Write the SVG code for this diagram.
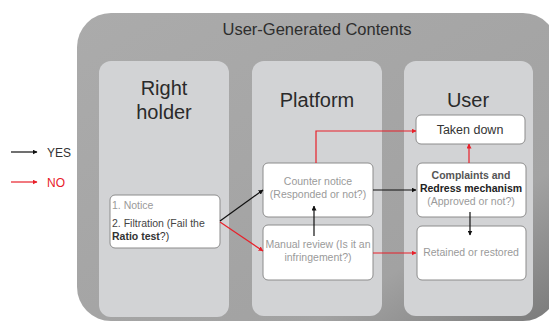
<svg xmlns="http://www.w3.org/2000/svg" width="549" height="321" viewBox="0 0 549 321">
<defs>
<linearGradient id="og" x1="0" y1="0" x2="1" y2="1">
<stop offset="0" stop-color="#ababab"/>
<stop offset="0.75" stop-color="#a2a2a2"/>
<stop offset="1" stop-color="#7a7a7a"/>
</linearGradient>
<marker id="ab" viewBox="0 0 10 10" refX="9" refY="5" markerWidth="5" markerHeight="5" orient="auto" markerUnits="userSpaceOnUse"><path d="M0,0 L10,5 L0,10 z" fill="#111"/></marker>
<marker id="ar" viewBox="0 0 10 10" refX="9" refY="5" markerWidth="5" markerHeight="5" orient="auto" markerUnits="userSpaceOnUse"><path d="M0,0 L10,5 L0,10 z" fill="#e8202a"/></marker>
<style>
text{font-family:"Liberation Sans",Arial,sans-serif}
.col{fill:#d2d3d5}
.box{fill:#fff;stroke:#8c8c8c;stroke-width:1}
.hd{font-size:20px;fill:#2a2a2a;text-anchor:middle}
.t{font-size:10.5px;fill:#9a9a9a;text-anchor:middle}
.b{font-weight:bold}
.k{stroke:#111;stroke-width:1.2;fill:none;marker-end:url(#ab)}
.r{stroke:#e8202a;stroke-width:1.2;fill:none;marker-end:url(#ar)}
</style>
</defs>
<rect x="0" y="0" width="549" height="321" fill="#fff"/>
<g id="container">
<rect x="77" y="13" width="480" height="308" rx="34" fill="url(#og)"/>
<text x="317" y="35" font-size="16.5" fill="#2e2e2e" text-anchor="middle">User-Generated Contents</text>
</g>
<g id="col-rightholder">
<rect class="col" x="99" y="61" width="130" height="256" rx="12"/>
<text class="hd" x="164" y="95">Right</text>
<text class="hd" x="164" y="119">holder</text>
</g>
<g id="col-platform">
<rect class="col" x="252" y="61" width="130" height="255" rx="12"/>
<text class="hd" x="317" y="107">Platform</text>
</g>
<g id="col-user">
<rect class="col" x="404" y="61" width="129" height="255" rx="12"/>
<text class="hd" x="468" y="107">User</text>
</g>
<g id="legend">
<line x1="11" y1="152" x2="37" y2="152" class="k"/>
<text x="47" y="157" font-size="12" fill="#333">YES</text>
<line x1="11" y1="182" x2="37" y2="182" class="r"/>
<text x="47" y="187" font-size="12" fill="#e8202a">NO</text>
</g>
<g id="node-notice">
<rect class="box" x="110" y="195" width="110" height="53" rx="5"/>
<text x="112" y="209" font-size="10.5" fill="#9a9a9a">1. Notice</text>
<text x="112" y="227" font-size="10.5" fill="#444">2. Filtration (Fail the</text>
<text x="112" y="240" font-size="10.5" fill="#333"><tspan class="b">Ratio test</tspan>?)</text>
</g>
<g id="node-counter">
<rect class="box" x="263" y="163" width="110" height="54" rx="5"/>
<text class="t" x="318" y="185">Counter notice</text>
<text class="t" x="318" y="198">(Responded or not?)</text>
</g>
<g id="node-manual">
<rect class="box" x="263" y="225" width="110" height="55" rx="5"/>
<text class="t" x="318" y="248">Manual review (Is it an</text>
<text class="t" x="318" y="261">infringement?)</text>
</g>
<g id="node-taken">
<rect class="box" x="416" y="115" width="109" height="29" rx="5"/>
<text x="470" y="134" font-size="12.5" fill="#333" text-anchor="middle">Taken down</text>
</g>
<g id="node-complaints">
<rect class="box" x="417" y="163" width="109" height="54" rx="5"/>
<text class="t b" x="471" y="179" fill="#555" style="fill:#555">Complaints and</text>
<text class="t b" x="471" y="192" style="fill:#222">Redress mechanism</text>
<text class="t" x="471" y="205">(Approved or not?)</text>
</g>
<g id="node-retained">
<rect class="box" x="417" y="226" width="109" height="54" rx="5"/>
<text class="t" x="471" y="256">Retained or restored</text>
</g>
<g id="connectors">
<line class="k" x1="220" y1="221" x2="263" y2="190"/>
<line class="r" x1="220" y1="222" x2="263" y2="251"/>
<polyline class="r" points="316,163 316,131 416,131"/>
<line class="k" x1="314" y1="236" x2="314" y2="206"/>
<line class="k" x1="373" y1="190" x2="416" y2="190"/>
<line class="r" x1="469" y1="163" x2="469" y2="144"/>
<line class="k" x1="470" y1="212" x2="470" y2="235"/>
<line class="r" x1="373" y1="253" x2="416" y2="253"/>
</g>
</svg>
